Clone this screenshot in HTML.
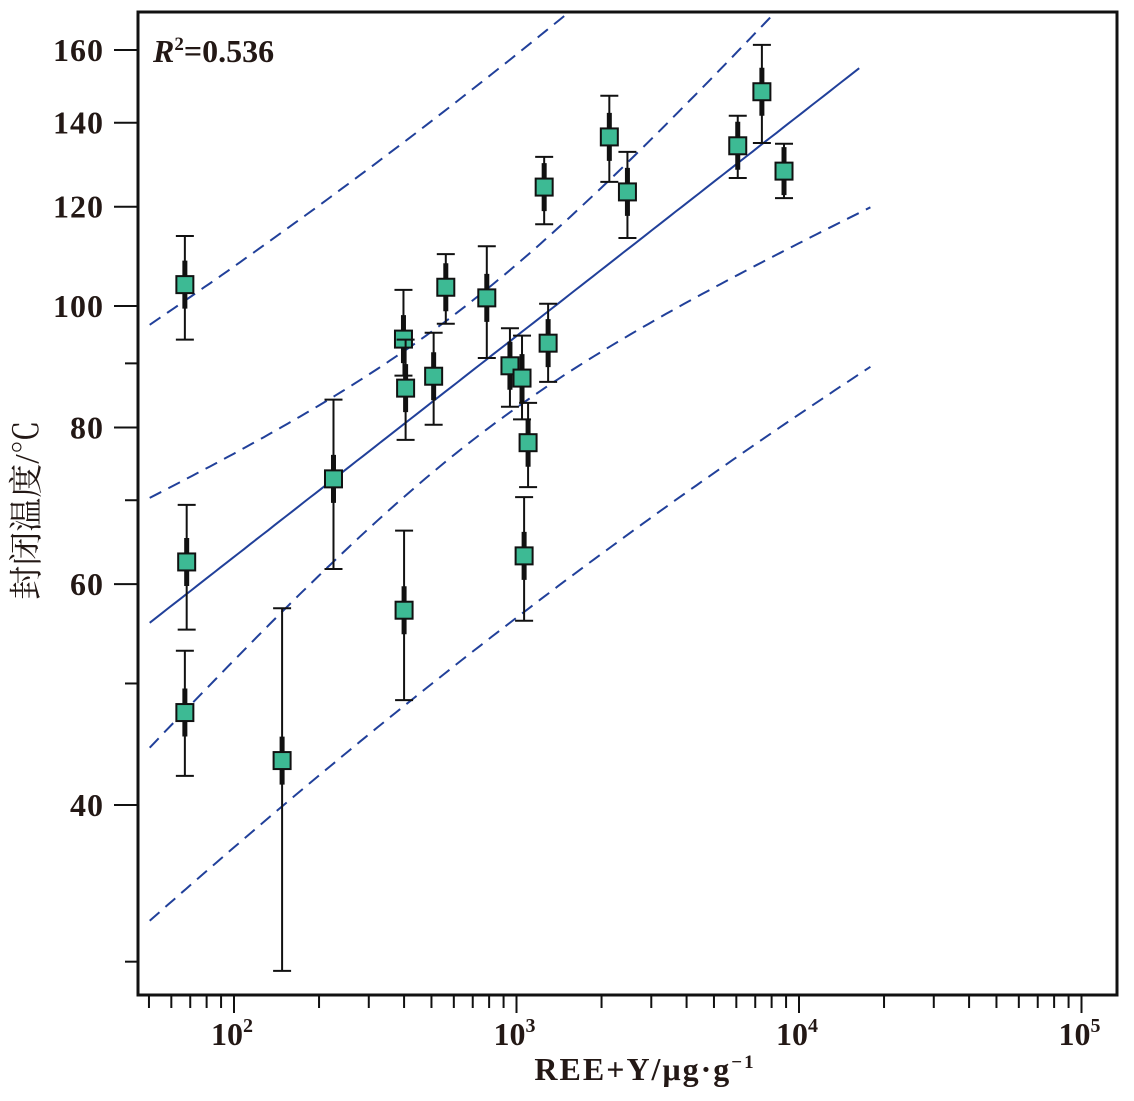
<!DOCTYPE html>
<html><head><meta charset="utf-8"><style>
html,body{margin:0;padding:0;background:#fff;}
svg text{font-family:"Liberation Serif","Noto Serif CJK SC",serif;fill:#231815;}
</style></head><body>
<svg id="chart" width="1134" height="1096" xmlns="http://www.w3.org/2000/svg">
<defs><clipPath id="clip"><rect x="139" y="13" width="977" height="981"/></clipPath></defs>
<g id="bands" clip-path="url(#clip)"></g>
<g id="points"></g>
<rect x="138" y="12" width="979" height="983" fill="none" stroke="#111" stroke-width="3"/>
<g id="axes"></g>
<text x="153" y="62" font-size="32" font-weight="bold"><tspan font-style="italic">R</tspan><tspan font-size="19" dy="-12">2</tspan><tspan dy="12">=0.536</tspan></text>
<text transform="translate(38,510) rotate(-90)" text-anchor="middle" font-size="34">封闭温度/℃</text>
<text x="645" y="1080" text-anchor="middle" font-size="32" font-weight="bold" letter-spacing="2">REE+Y/μg·g<tspan font-size="19" dy="-12">−1</tspan></text>
</svg>
<script>
const xVals=[67,68,67,148,225,398,405,400,509,562,785,948,1046,1099,1064,1294,1253,2131,2470,6070,7390,8850];
const yVals=[104,62.5,47.4,43.4,72.8,94.1,86,57.2,87.9,103.5,101.5,89.6,87.6,77.8,63.2,93.4,124.4,136.4,123.3,134.2,148.2,128.1];
const yHigh=[113.7,69.4,53.1,57.4,84.2,103,94,66.2,95.2,110,111.6,96,94.7,83.7,70.4,100.4,131.5,147.1,132.7,141.8,161.5,134.7];
const yLow=[94.0,55.2,42.2,29.5,61.7,88,78.2,48.5,80.4,96.8,90.9,83.1,81.2,71.7,56.1,87,116.2,125.6,113.3,126.5,134.9,121.9];
const yTicks=[40,60,80,100,120,140,160];
const yMinor=[30,50,70,90];
const xTickExp=[2,3,4,5];
const fitA=1.4477, fitB=0.1761, fitMean=2.831;
const confC0=0.0031, confC1=0.00535;
const predC0=0.0503, predC1=0.00484;
const fitXRange=[50.3,16340], bandXRange=[50.3,17900];

const NS='http://www.w3.org/2000/svg';
function X(v){return 234+(Math.log10(v)-2)*282.5;}
function Y(v){return 805-(Math.log10(v)-Math.log10(40))*1254;}
function mk(tag,attrs,parent){const e=document.createElementNS(NS,tag);for(const k in attrs)e.setAttribute(k,attrs[k]);parent.appendChild(e);return e;}
const axes=document.getElementById('axes'),bands=document.getElementById('bands'),pts=document.getElementById('points');
yTicks.forEach(v=>{const y=Y(v);
 const l=mk('line',{x1:114,x2:137,y1:y,y2:y,stroke:'#111','stroke-width':2},axes);
 
 
 const t=mk('text',{x:104,y:y+11,'text-anchor':'end','font-size':32,'font-weight':'bold','letter-spacing':1},axes);t.textContent=v;
 
 
});
yMinor.forEach(v=>{const y=Y(v);
 const l=mk('line',{x1:125,x2:137,y1:y,y2:y,stroke:'#111','stroke-width':2},axes);
 
 
});
for(let e=1;e<=4;e++){for(let m=1;m<10;m++){const v=m*Math.pow(10,e);if(v<50)continue;const x=X(v);
 const l=mk('line',{x1:x,x2:x,y1:996,y2:m===1?1013:1008,stroke:'#111','stroke-width':2},axes);
 
 }}
{const l=mk('line',{x1:X(1e5),x2:X(1e5),y1:996,y2:1013,stroke:'#111','stroke-width':2},axes);
 
 }
xTickExp.forEach(e=>{const t=mk('text',{x:X(Math.pow(10,e))-2,y:1045,'text-anchor':'middle','font-size':32,'font-weight':'bold'},axes);
 t.innerHTML='10<tspan font-size="20" dy="-13">'+e+'</tspan>';
 
 });
function fit(xl){return fitA+fitB*xl;}
function curve(fn,r){let d='';const a=Math.log10(r[0]),b=Math.log10(r[1]);for(let i=0;i<=120;i++){const xl=a+(b-a)*i/120;d+=(i?'L':'M')+X(Math.pow(10,xl)).toFixed(1)+','+Y(Math.pow(10,fn(xl))).toFixed(1);}return d;}
const col='#21409a';
const fl=mk('path',{d:curve(fit,fitXRange),fill:'none',stroke:col,'stroke-width':2},bands);


[[confC0,confC1,'confidence'],[predC0,predC1,'prediction']].forEach(([c0,c1,n])=>{[1,-1].forEach(s=>{
 const p=mk('path',{d:curve(xl=>fit(xl)+s*Math.sqrt(c0+c1*(xl-fitMean)**2),bandXRange),fill:'none',stroke:col,'stroke-width':2,'stroke-dasharray':'13,8'},bands);
 
 });});
xVals.forEach((xv,i)=>{const x=X(xv),y=Y(yVals[i]),yh=Y(yHigh[i]),yl=Y(yLow[i]);
 const g=mk('g',{},pts);
 
 
 mk('line',{x1:x,x2:x,y1:yh,y2:yl,stroke:'#111','stroke-width':2},g);
 mk('line',{x1:x-9,x2:x+9,y1:yh,y2:yh,stroke:'#111','stroke-width':2},g);
 mk('line',{x1:x-9,x2:x+9,y1:yl,y2:yl,stroke:'#111','stroke-width':2},g);
 mk('line',{x1:x,x2:x,y1:Math.max(yh,y-24),y2:Math.min(yl,y+24),stroke:'#111','stroke-width':5},g);
 mk('rect',{x:x-8.5,y:y-8.5,width:17,height:17,fill:'#3dba94',stroke:'#111','stroke-width':2},g);
});
</script>
</body></html>
